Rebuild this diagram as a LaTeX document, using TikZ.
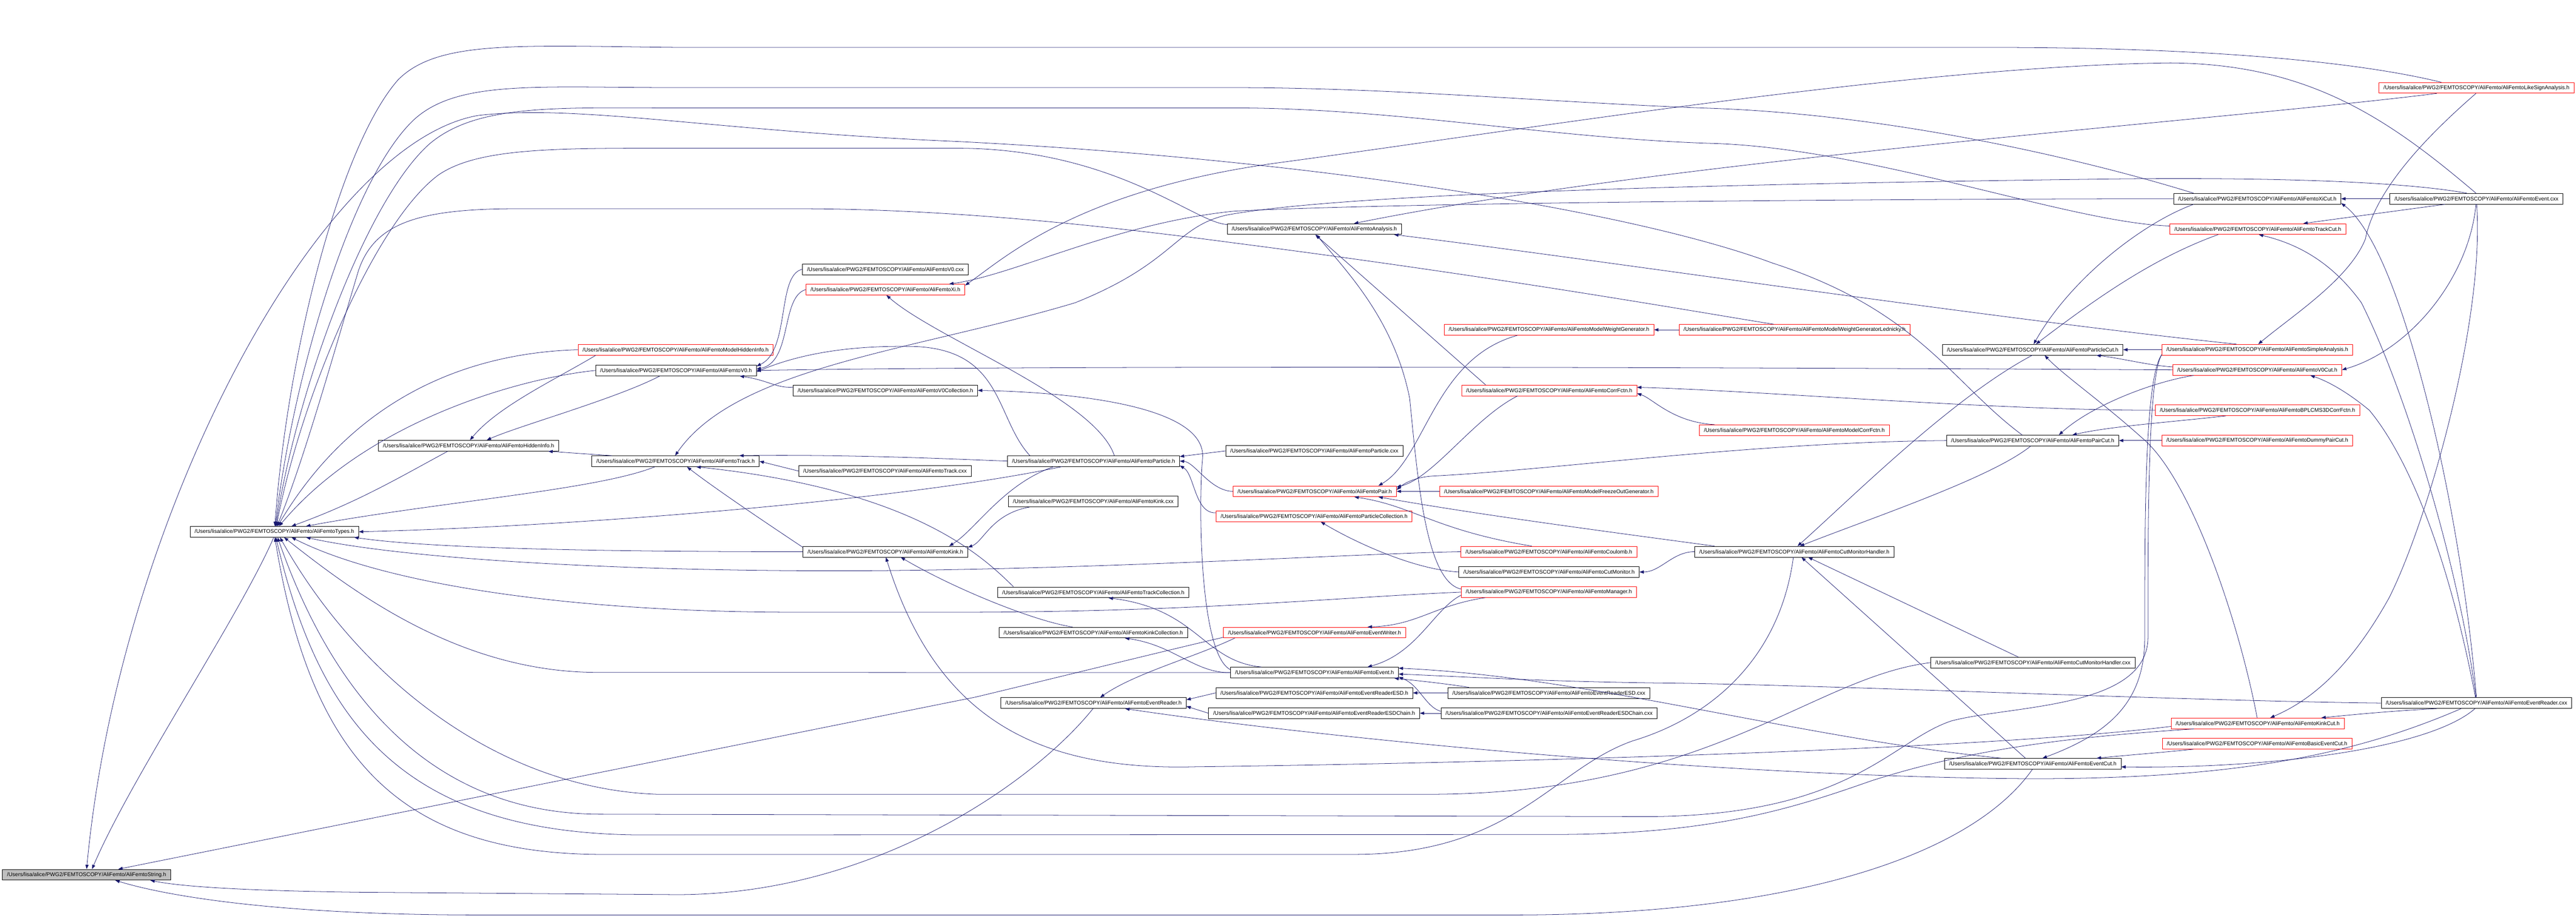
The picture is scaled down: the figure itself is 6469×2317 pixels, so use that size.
\documentclass[tikz,border=0pt]{standalone}
\usepackage{fontspec}
\setmainfont{Liberation Sans}
\usepackage{tikz}
\usetikzlibrary{arrows.meta}
\definecolor{edgeblue}{HTML}{191970}
\newcommand{\fp}[1]{/Users/lisa/alice/PWG2/FEMTOSCOPY/AliFemto/#1}

\begin{document}
\begin{tikzpicture}[x=1pt,y=-1pt,
	file/.style={draw=black,line width=1pt,fill=white,minimum height=27pt,inner xsep=11.5pt,inner ysep=0pt,font=\fontsize{13.6}{16}\selectfont},
	trunc/.style={file,draw=red},
	root/.style={file,fill=black!25},
	inc/.style={draw=edgeblue,line width=1pt,-{Triangle[length=11pt,width=8pt]}}]

		\useasboundingbox (0,0) rectangle (6469,2317);

		%first columns
		\node[root] (string) at (217.5,2196) {\fp{AliFemtoString.h}};
		\node[file] (types) at (689,1335) {\fp{AliFemtoTypes.h}};
		\node[file] (hidden) at (1176.5,1119) {\fp{AliFemtoHiddenInfo.h}};
		\node[trunc] (mhidden) at (1696.5,878) {\fp{AliFemtoModelHiddenInfo.h}};
		\node[file] (vzero) at (1697.5,930) {\fp{AliFemtoV0.h}};
		\node[file] (track) at (1696.5,1158) {\fp{AliFemtoTrack.h}};

		%middle columns
		\node[file] (vzerocxx) at (2223.5,676) {\fp{AliFemtoV0.cxx}};
		\node[trunc] (xi) at (2223.5,727) {\fp{AliFemtoXi.h}};
		\node[file] (vzerocoll) at (2223.5,980) {\fp{AliFemtoV0Collection.h}};
		\node[file] (trackcxx) at (2222.5,1182.5) {\fp{AliFemtoTrack.cxx}};
		\node[file] (kink) at (2223.5,1385) {\fp{AliFemtoKink.h}};
		\node[file] (particle) at (2746,1157.5) {\fp{AliFemtoParticle.h}};
		\node[file] (kinkcxx) at (2745.5,1259) {\fp{AliFemtoKink.cxx}};
		\node[file] (trackcoll) at (2745.5,1487) {\fp{AliFemtoTrackCollection.h}};
		\node[file] (kinkcoll) at (2745.5,1588) {\fp{AliFemtoKinkCollection.h}};
		\node[file] (reader) at (2746,1765) {\fp{AliFemtoEventReader.h}};
		\node[file] (analysis) at (3300.5,575) {\fp{AliFemtoAnalysis.h}};
		\node[file] (particlecxx) at (3300.5,1132) {\fp{AliFemtoParticle.cxx}};
		\node[trunc] (pair) at (3301.5,1233.5) {\fp{AliFemtoPair.h}};
		\node[trunc] (partcoll) at (3300,1296) {\fp{AliFemtoParticleCollection.h}};
		\node[trunc] (writer) at (3301,1588) {\fp{AliFemtoEventWriter.h}};
		\node[file] (event) at (3301,1688.5) {\fp{AliFemtoEvent.h}};
		\node[file] (esd) at (3300.5,1739.5) {\fp{AliFemtoEventReaderESD.h}};
		\node[file] (esdchain) at (3300,1790.5) {\fp{AliFemtoEventReaderESDChain.h}};
		\node[trunc] (weightgen) at (3890,828) {\fp{AliFemtoModelWeightGenerator.h}};
		\node[trunc] (corrfctn) at (3890.5,980) {\fp{AliFemtoCorrFctn.h}};
		\node[trunc] (freezeout) at (3889.5,1233.5) {\fp{AliFemtoModelFreezeOutGenerator.h}};
		\node[trunc] (coulomb) at (3889.5,1385) {\fp{AliFemtoCoulomb.h}};
		\node[file] (cutmon) at (3890,1436) {\fp{AliFemtoCutMonitor.h}};
		\node[trunc] (manager) at (3889.5,1486.5) {\fp{AliFemtoManager.h}};
		\node[file] (esdcxx) at (3889.5,1739.5) {\fp{AliFemtoEventReaderESD.cxx}};
		\node[file] (esdchaincxx) at (3890,1790.5) {\fp{AliFemtoEventReaderESDChain.cxx}};

		%right columns
		\node[trunc] (lednicky) at (4506.5,828) {\fp{AliFemtoModelWeightGeneratorLednicky.h}};
		\node[trunc] (modelcorr) at (4506,1080) {\fp{AliFemtoModelCorrFctn.h}};
		\node[file] (cmhandler) at (4506,1385) {\fp{AliFemtoCutMonitorHandler.h}};
		\node[file] (partcut) at (5104.5,878) {\fp{AliFemtoParticleCut.h}};
		\node[file] (paircut) at (5104.5,1106) {\fp{AliFemtoPairCut.h}};
		\node[file] (cmhandlercxx) at (5105,1663.5) {\fp{AliFemtoCutMonitorHandler.cxx}};
		\node[file] (eventcut) at (5105,1917.5) {\fp{AliFemtoEventCut.h}};
		\node[trunc] (likesign) at (6219,220.5) {\fp{AliFemtoLikeSignAnalysis.h}};
		\node[file] (xicut) at (5668.5,499) {\fp{AliFemtoXiCut.h}};
		\node[file] (eventcxx) at (6219,499) {\fp{AliFemtoEvent.cxx}};
		\node[trunc] (trackcut) at (5670,575) {\fp{AliFemtoTrackCut.h}};
		\node[trunc] (simple) at (5668.5,878) {\fp{AliFemtoSimpleAnalysis.h}};
		\node[trunc] (vzerocut) at (5668.5,928.5) {\fp{AliFemtoV0Cut.h}};
		\node[trunc] (bplcms) at (5669,1030) {\fp{AliFemtoBPLCMS3DCorrFctn.h}};
		\node[trunc] (dummypair) at (5668.5,1106) {\fp{AliFemtoDummyPairCut.h}};
		\node[file] (readercxx) at (6219,1765) {\fp{AliFemtoEventReader.cxx}};
		\node[trunc] (kinkcut) at (5669.5,1816) {\fp{AliFemtoKinkCut.h}};
		\node[trunc] (basiccut) at (5668,1867) {\fp{AliFemtoBasicEventCut.h}};

		%edges to string
		\draw[inc] (types.-96) .. controls (600,1550) and (330,1950) .. (string.46);
		\draw[inc] (reader.-95) .. controls (2600,1960) and (2200,2246) .. (1700,2246) -- (900,2240) .. controls (600,2236) and (450,2225) .. (string.-5);
		\draw[inc] (eventcut.-95) .. controls (4950,2150) and (4500,2297) .. (3800,2297) -- (1200,2297) .. controls (700,2297) and (420,2250) .. (string.-11);
		\draw[inc] (writer.183) .. controls (2900,1640) and (2700,1690) .. (2450,1750) -- (string.10);
		\draw[inc] (paircut.152) .. controls (4900,960) and (4820,780) .. (4450,660) .. controls (4100,530) and (3300,400) .. (2400,355) .. controls (1800,330) and (1450,260) .. (1200,290) .. controls (800,360) and (300,1300) .. (string.90);

		%edges to types
		\draw[inc] (likesign.171) .. controls (5900,150) and (5500,119) .. (5000,119) -- (1700,119) .. controls (1300,115) and (1100,100) .. (1000,200) .. controls (850,370) and (720,900) .. (types.85);
		\draw[inc] (xicut.175) .. controls (5300,420) and (4800,290) .. (4300,272) .. controls (3900,258) and (3500,220) .. (3100,220) -- (1700,220) .. controls (1350,220) and (1150,200) .. (1040,300) .. controls (880,450) and (735,950) .. (types.80);
		\draw[inc] (trackcut.178) .. controls (5200,560) and (4700,372) .. (4300,360) .. controls (3900,348) and (3500,271) .. (3100,271) -- (1700,271) .. controls (1400,271) and (1200,260) .. (1080,360) .. controls (920,500) and (745,980) .. (types.75);
		\draw[inc] (analysis.177) .. controls (3000,560) and (2800,372) .. (2400,372) -- (1700,372) .. controls (1400,372) and (1200,370) .. (1100,440) .. controls (940,560) and (755,1000) .. (types.70);
		\draw[inc] (lednicky.165) .. controls (4300,790) and (3800,700) .. (3100,610) .. controls (2650,550) and (2300,524) .. (2000,524) -- (1300,524) .. controls (1050,524) and (940,560) .. (900,680) .. controls (840,880) and (765,1150) .. (types.65);
		\draw[inc] (mhidden.west) .. controls (1200,885) and (900,980) .. (types.60);
		\draw[inc] (vzero.west) .. controls (1300,950) and (920,1060) .. (types.50);
		\draw[inc] (hidden.-165) .. controls (1000,1200) and (900,1260) .. (types.18);
		\draw[inc] (track.-165) .. controls (1500,1230) and (1100,1260) .. (types.10);
		\draw[inc] (particle.-170) .. controls (2300,1250) and (1500,1320) .. (types.east);
		\draw[inc] (kink.west) .. controls (1600,1385) and (1100,1380) .. (types.-4.5);
		\draw[inc] (coulomb.west) .. controls (3400,1390) and (2700,1433) .. (2100,1433) .. controls (1500,1433) and (1000,1400) .. (types.-10);
		\draw[inc] (manager.west) .. controls (3350,1500) and (3000,1537) .. (2400,1537) -- (2000,1537) .. controls (1400,1537) and (950,1460) .. (types.-18);
		\draw[inc] (event.west) -- (1500,1688) .. controls (1150,1688) and (880,1480) .. (types.-30);
		\draw[inc] (cmhandlercxx.west) .. controls (4550,1700) and (4300,1990) .. (3600,1994) -- (1650,1994) .. controls (1250,1980) and (900,1700) .. (types.-45);
		\draw[inc] (simple.-177.5) .. controls (5394,950) and (5394,1300) .. (5394,1600) .. controls (5394,1780) and (5050,1770) .. (4900,1810) .. controls (4750,1860) and (4650,2045) .. (4150,2050) -- (1500,2044) .. controls (1050,2040) and (820,1700) .. (types.-60);
		\draw[inc] (kinkcut.-175) .. controls (5200,1850) and (4950,1880) .. (4700,1960) .. controls (4500,2030) and (4300,2095) .. (3900,2095) -- (1600,2096) .. controls (1000,2090) and (800,1800) .. (types.-75);
		\draw[inc] (cmhandler.-100) .. controls (4470,1650) and (4300,1800) .. (4100,1860) .. controls (3900,1930) and (3800,2145) .. (3400,2145) -- (1500,2145) .. controls (1000,2140) and (780,1900) .. (types.-85);

		%edges to hidden info, v0, track
		\draw[inc] (mhidden.-176) .. controls (1400,950) and (1250,1020) .. (hidden.75);
		\draw[inc] (vzero.-161) .. controls (1550,1000) and (1300,1070) .. (hidden.17);
		\draw[inc] (track.175) -- (hidden.-4);
		\draw[inc] (vzerocxx.west) .. controls (1950,690) and (1985,880) .. (vzero.3);
		\draw[inc] (xi.west) .. controls (1960,745) and (1990,910) .. (vzero.1);
		\draw[inc] (vzerocoll.178) .. controls (1950,975) and (1930,955) .. (vzero.-5.5);
		\draw[inc] (particle.175) .. controls (2500,1050) and (2520,880) .. (2300,870) .. controls (2100,865) and (1980,900) .. (vzero.-1);
		\draw[inc] (vzerocut.west) .. controls (4800,925) and (2800,915) .. (vzero.east);
		\draw[inc] (trackcxx.west) -- (track.east);
		\draw[inc] (kink.177) .. controls (1950,1330) and (1800,1230) .. (track.-26);
		\draw[inc] (particle.west) .. controls (2450,1155) and (2150,1140) .. (track.5);
		\draw[inc] (trackcoll.176.5) .. controls (2470,1400) and (2300,1230) .. (track.-15);
		\draw[inc] (eventcxx.150) .. controls (6000,450) and (5600,445) .. (5250,450) .. controls (4500,460) and (3400,480) .. (3080,540) .. controls (2950,570) and (2950,660) .. (2700,760) .. controls (2300,880) and (1850,920) .. (track.95);

		%edges to xi, collections, kink, particle
		\draw[inc] (particle.15) .. controls (2750,1000) and (2350,850) .. (xi.-80);
		\draw[inc] (xicut.west) .. controls (5000,499) and (3600,505) .. (3100,530) .. controls (2800,560) and (2550,690) .. (xi.5);
		\draw[inc] (eventcxx.95) .. controls (6000,300) and (5800,160) .. (5450,158) .. controls (4800,165) and (3800,330) .. (3200,410) .. controls (2700,480) and (2520,650) .. (xi.3);
		\draw[inc] (event.178) .. controls (3010,1640) and (3010,1250) .. (3020,1150) .. controls (3030,1020) and (2700,985) .. (vzerocoll.east);
		\draw[inc] (event.174) .. controls (3020,1660) and (3010,1530) .. (trackcoll.-20);
		\draw[inc] (event.180) .. controls (3000,1690) and (2950,1620) .. (kinkcoll.-10);
		\draw[inc] (kinkcxx.-175) .. controls (2490,1290) and (2470,1360) .. (kink.3);
		\draw[inc] (particle.-172) .. controls (2520,1215) and (2450,1330) .. (kink.5);
		\draw[inc] (kinkcoll.165) .. controls (2600,1560) and (2400,1480) .. (kink.-20);
		\draw[inc] (kinkcut.-178) .. controls (5000,1880) and (3800,1915) .. (3000,1925) .. controls (2600,1935) and (2350,1800) .. (kink.-85);
		\draw[inc] (particlecxx.west) -- (particle.3);
		\draw[inc] (pair.west) .. controls (3040,1233) and (3000,1160) .. (particle.east);
		\draw[inc] (partcoll.178) .. controls (3000,1290) and (3000,1190) .. (particle.-3);

		%edges to reader and event
		\draw[inc] (esd.west) -- (reader.2);
		\draw[inc] (esdchain.west) -- (reader.-2);
		\draw[inc] (writer.-176) .. controls (3000,1650) and (2850,1690) .. (reader.40);
		\draw[inc] (manager.-175) .. controls (3600,1520) and (3560,1570) .. (writer.6);
		\draw[inc] (readercxx.-160) .. controls (5900,1900) and (5600,1955) .. (5100,1955) .. controls (4300,1950) and (3300,1850) .. (reader.-10);
		\draw[inc] (esdcxx.176) .. controls (3600,1712) and (3520,1705) .. (event.-4.9);
		\draw[inc] (esdchaincxx.179) .. controls (3580,1775) and (3565,1720) .. (event.-3);
		\draw[inc] (eventcut.170) .. controls (4500,1850) and (4000,1700) .. (event.3);
		\draw[inc] (manager.-178) .. controls (3600,1530) and (3560,1640) .. (event.6);
		\draw[inc] (readercxx.180) .. controls (5500,1760) and (4600,1720) .. (4200,1715) .. controls (3900,1712) and (3700,1700) .. (event.-1);

		%edges to pair, collections, analysis
		\draw[inc] (freezeout.west) -- (pair.east);
		\draw[inc] (weightgen.-170) .. controls (3600,900) and (3580,1150) .. (pair.5);
		\draw[inc] (coulomb.162) .. controls (3600,1330) and (3550,1270) .. (pair.-8);
		\draw[inc] (corrfctn.-170) .. controls (3700,1050) and (3600,1200) .. (pair.3);
		\draw[inc] (paircut.west) .. controls (4400,1110) and (3900,1180) .. (3600,1195) .. controls (3560,1197) and (3530,1210) .. (pair.1);
		\draw[inc] (cmhandler.176) .. controls (4000,1330) and (3700,1290) .. (pair.-5);
		\draw[inc] (cutmon.west) .. controls (3550,1430) and (3400,1360) .. (partcoll.-40);
		\draw[inc] (esdcxx.west) -- (esd.east);
		\draw[inc] (esdchaincxx.west) -- (esdchain.east);
		\draw[inc] (simple.165) .. controls (5000,800) and (4000,650) .. (analysis.-4);
		\draw[inc] (likesign.-172) .. controls (5600,300) and (4200,400) .. (analysis.8);
		\draw[inc] (corrfctn.175) -- (analysis.-80);
		\draw[inc] (manager.178) .. controls (3580,1460) and (3560,1200) .. (3540,1000) .. controls (3500,800) and (3380,680) .. (analysis.-70);

		%edges to generators, corr fctn, cut monitors
		\draw[inc] (lednicky.west) -- (weightgen.east);
		\draw[inc] (modelcorr.176) .. controls (4200,1060) and (4150,1000) .. (corrfctn.-2);
		\draw[inc] (bplcms.west) .. controls (5000,1030) and (4400,980) .. (corrfctn.2);
		\draw[inc] (cmhandler.west) .. controls (4200,1385) and (4170,1436) .. (cutmon.east);
		\draw[inc] (partcut.-95) .. controls (4900,1000) and (4650,1250) .. (cmhandler.60);
		\draw[inc] (paircut.-110) .. controls (5000,1200) and (4700,1300) .. (cmhandler.45);
		\draw[inc] (eventcut.143) -- (cmhandler.-38);
		\draw[inc] (cmhandlercxx.159) -- (cmhandler.-22);

		%edges to cuts
		\draw[inc] (simple.west) -- (partcut.east);
		\draw[inc] (vzerocut.178) .. controls (5400,918) and (5330,900) .. (partcut.-5);
		\draw[inc] (xicut.-175) .. controls (5380,560) and (5200,700) .. (partcut.80);
		\draw[inc] (trackcut.-172) .. controls (5400,650) and (5250,760) .. (partcut.60);
		\draw[inc] (kinkcut.95) .. controls (5620,1550) and (5500,1200) .. (5380,1100) .. controls (5280,1010) and (5180,940) .. (partcut.-25);
		\draw[inc] (dummypair.west) -- (paircut.east);
		\draw[inc] (vzerocut.-175) .. controls (5400,960) and (5250,1020) .. (paircut.12);
		\draw[inc] (bplcms.-170) .. controls (5450,1060) and (5300,1070) .. (paircut.8);
		\draw[inc] (basiccut.-175) .. controls (5420,1890) and (5350,1895) .. (eventcut.5.1);
		\draw[inc] (readercxx.-105) .. controls (6100,1880) and (5700,1930) .. (eventcut.-2);
		\draw[inc] (simple.-177) .. controls (5386,950) and (5386,1300) .. (5386,1600) .. controls (5386,1760) and (5300,1840) .. (eventcut.30);
		\draw[inc] (eventcxx.-170) -- (trackcut.7);
		\draw[inc] (readercxx.95) .. controls (6180,1450) and (6050,1000) .. (5930,760) .. controls (5850,650) and (5760,610) .. (trackcut.-80);
		\draw[inc] (eventcxx.-95) .. controls (6200,700) and (6050,880) .. (vzerocut.east);
		\draw[inc] (readercxx.100) .. controls (6150,1400) and (6050,1150) .. (5950,1030) .. controls (5890,980) and (5840,955) .. (vzerocut.-6.6);
		\draw[inc] (eventcxx.west) -- (xicut.east);
		\draw[inc] (readercxx.90) .. controls (6180,1300) and (6080,900) .. (6000,700) .. controls (5960,600) and (5920,540) .. (xicut.-3.9);
		\draw[inc] (eventcxx.-88) .. controls (6240,800) and (6100,1300) .. (6000,1500) .. controls (5900,1680) and (5800,1760) .. (kinkcut.24);
		\draw[inc] (readercxx.-172) .. controls (6000,1785) and (5900,1795) .. (kinkcut.5);
		\draw[inc] (likesign.-95) .. controls (6050,380) and (5960,500) .. (5940,600) .. controls (5900,700) and (5760,790) .. (simple.80);

		\end{tikzpicture}
\end{document}
